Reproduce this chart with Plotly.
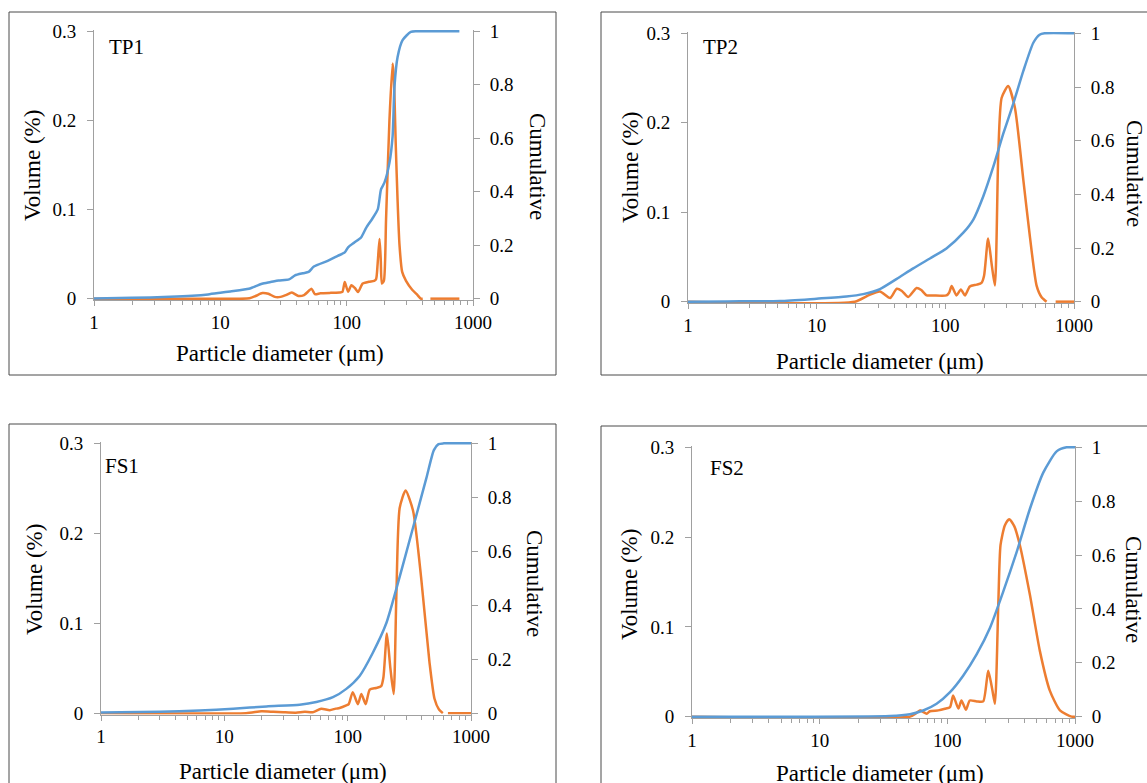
import plotly.graph_objects as go

W, H = 1147, 783

# ---------------- data ----------------
panel_names = ["TP1", "TP2", "FS1", "FS2"]

tp1_vol_d = [1, 3, 8, 17, 19, 21.5, 24, 27, 30, 33, 36.8, 41.5, 46, 52.8, 56, 62, 75, 88, 92.5, 96.6,
             102.6, 109, 116, 123, 134, 150, 165, 171, 176, 182, 186, 190, 197, 205, 218, 231, 236, 245,
             253, 262, 275, 295, 330, 364, 386, 400, 430, 460, 780]
tp1_vol = [0, 0, 0, 0.0005, 0.003, 0.0063, 0.0055, 0.002, 0.002, 0.004, 0.0068, 0.003, 0.004, 0.011, 0.005,
           0.006, 0.0065, 0.0068, 0.0075, 0.0186, 0.0078, 0.015, 0.012, 0.0075, 0.017, 0.019, 0.02, 0.022,
           0.04, 0.067, 0.045, 0.017, 0.02, 0.089, 0.2, 0.264, 0.25, 0.17, 0.11, 0.06, 0.03, 0.02, 0.01,
           0.004, 0, 0, None, 0, 0]
tp1_cum_d = [1, 2, 4, 6, 8, 10, 12, 16.8, 18, 21.4, 25, 28.9, 35, 39, 45, 50, 55, 71.4, 85, 96.6, 102.6,
             115, 130, 143, 160, 176.5, 187, 199, 218, 231, 239, 253, 277, 322, 360, 780]
tp1_cum = [0.001, 0.003, 0.007, 0.011, 0.016, 0.022, 0.027, 0.037, 0.042, 0.056, 0.062, 0.068, 0.072, 0.087,
           0.095, 0.1, 0.12, 0.142, 0.16, 0.173, 0.192, 0.21, 0.229, 0.266, 0.3, 0.335, 0.409, 0.434, 0.508,
           0.607, 0.793, 0.904, 0.967, 0.998, 1.0, 1.0]

tp2_vol_d = [1, 19.8, 25.2, 31, 37.2, 41.9, 46, 51.5, 59.8, 65, 71.6, 80, 102, 107, 112, 122, 132, 142, 155,
             175, 191, 200, 215, 230, 243, 258, 274, 308, 347, 404, 454, 512, 560, 612, 660, 720, 1000]
tp2_vol = [0, 0, 0.007, 0.0114, 0.004, 0.0144, 0.012, 0.0052, 0.0152, 0.013, 0.007, 0.007, 0.007, 0.01,
           0.0174, 0.007, 0.0136, 0.007, 0.017, 0.019, 0.021, 0.029, 0.0705, 0.04, 0.018, 0.166, 0.228,
           0.241, 0.217, 0.136, 0.073, 0.018, 0.005, 0, None, 0, 0]
tp2_cum_d = [1, 2, 5.2, 10, 17, 23, 31, 41.9, 56.3, 75.9, 102, 138, 165, 197, 236, 282, 337, 404, 483, 540,
             590, 1000]
tp2_cum = [0.0, 0.001, 0.002, 0.011, 0.019, 0.028, 0.047, 0.085, 0.124, 0.161, 0.198, 0.257, 0.306, 0.392,
           0.503, 0.626, 0.737, 0.86, 0.965, 0.995, 1.0, 1.0]

fs1_vol_d = [1, 15, 20, 25, 30, 38, 45, 52, 61, 71.5, 80, 86, 97.5, 102, 110, 121, 129, 140, 151, 170, 187,
             195, 208, 222, 236, 248, 264, 295, 339, 396, 461, 506, 550, 591, 620, 650, 1000]
fs1_vol = [0, 0, 0.002, 0.0015, 0.001, 0.0005, 0.0015, 0.001, 0.005, 0.0033, 0.005, 0.0057, 0.0086, 0.01,
           0.0233, 0.01, 0.0214, 0.01, 0.0262, 0.028, 0.03, 0.04, 0.0885, 0.05, 0.0214, 0.129, 0.228, 0.2475,
           0.225, 0.148, 0.0563, 0.016, 0.004, 0, None, 0, 0]
fs1_cum_d = [1, 3, 6.3, 11.8, 22, 40.8, 55.7, 76, 97.5, 125, 160, 206, 264, 339, 434, 500, 545, 600, 1000]
fs1_cum = [0.002, 0.005, 0.01, 0.016, 0.025, 0.031, 0.041, 0.059, 0.09, 0.138, 0.224, 0.334, 0.505, 0.688,
           0.87, 0.975, 0.997, 1.0, 1.0]

fs2_vol_d = [1, 51, 56, 61, 68.9, 73, 85, 95.7, 105, 111, 122, 129, 140, 150, 170, 191, 209, 225, 236, 251,
             261, 282, 305, 335, 370, 443, 531, 635, 762, 940, 1000]
fs2_vol = [0, 0, 0.003, 0.007, 0.0033, 0.006, 0.007, 0.0088, 0.0107, 0.0235, 0.009, 0.018, 0.0077, 0.018,
           0.017, 0.017, 0.051, 0.03, 0.0143, 0.128, 0.191, 0.213, 0.22, 0.212, 0.191, 0.136, 0.073, 0.029,
           0.007, 0, 0]
fs2_cum_d = [1, 35.6, 51, 64.7, 82.4, 105, 133, 170, 216, 274, 349, 443, 564, 718, 859, 1000]
fs2_cum = [0, 0.002, 0.009, 0.023, 0.048, 0.091, 0.152, 0.232, 0.33, 0.464, 0.611, 0.771, 0.906, 0.985,
           1.0, 1.0]

vol_d = [tp1_vol_d, tp2_vol_d, fs1_vol_d, fs2_vol_d]
vol = [tp1_vol, tp2_vol, fs1_vol, fs2_vol]
cum_d = [tp1_cum_d, tp2_cum_d, fs1_cum_d, fs2_cum_d]
cum = [tp1_cum, tp2_cum, fs1_cum, fs2_cum]

x_ticks = [1, 10, 100, 1000]
vol_ticks = [0, 0.1, 0.2, 0.3]
vol_ticktext = ["0", "0.1", "0.2", "0.3"]
cum_ticks = [0, 0.2, 0.4, 0.6, 0.8, 1]
cum_ticktext = ["0", "0.2", "0.4", "0.6", "0.8", "1"]

# ---------------- layout geometry (reference pixels) ----------------
plot_px = [(94, 473, 30, 300), (688, 1074, 32, 303), (101, 471, 442, 714.5), (692, 1075, 446, 718)]
box_px = [(9, 12, 556, 375), (601, 12, 1170, 375), (9, 424, 556, 800), (601, 426, 1170, 800)]
label_px = [(107, 47), (701, 47), (103, 466), (708, 468)]
ytitle_px = [(33, 166), (630, 168), (34, 580), (629, 585)]
y2title_px = [(537, 166), (1134, 173), (535, 583), (1134, 589)]
xtitle_px = [(280, 353), (880, 361), (283, 771), (880, 773)]

BLUE = "#5B9BD5"
ORANGE = "#ED7D31"
AXIS = "#A0A0A0"
FONT = "Liberation Serif, Times New Roman, serif"
TICK_SIZE = 19
TITLE_SIZE = 23


def fx(x):
    return x / W


def fy(y):
    return 1 - y / H


fig = go.Figure()
layout = dict(
    template="none",
    width=W, height=H, autosize=False, margin=dict(l=0, r=0, t=0, b=0, pad=0),
    paper_bgcolor="white", plot_bgcolor="white", showlegend=False,
    font=dict(family=FONT, size=TICK_SIZE, color="black"),
)
annotations = []
shapes = []

for i in range(4):
    xi = i + 1
    yl = 2 * i + 1
    yr = 2 * i + 2
    xname = "xaxis" if xi == 1 else f"xaxis{xi}"
    ylname = "yaxis" if yl == 1 else f"yaxis{yl}"
    yrname = f"yaxis{yr}"
    xref = "x" if xi == 1 else f"x{xi}"
    ylref = "y" if yl == 1 else f"y{yl}"
    yrref = f"y{yr}"
    x0, x1, yt, yb = plot_px[i]

    layout[xname] = dict(
        type="log", range=[0, 3], domain=[fx(x0), fx(x1)], anchor=ylref, automargin=False,
        tickvals=x_ticks, ticktext=[str(v) for v in x_ticks],
        showline=True, linecolor=AXIS, linewidth=1, ticks="outside", ticklen=5,
        tickcolor=AXIS, showgrid=False, zeroline=False,
        minor=dict(ticks="outside", ticklen=4, tickcolor=AXIS, dtick="D1", showgrid=False),
        tickfont=dict(family=FONT, size=TICK_SIZE, color="black"),
    )
    layout[ylname] = dict(
        range=[-0.0015, 0.3015], domain=[fy(yb), fy(yt)], anchor=xref, automargin=False,
        tickvals=vol_ticks, ticktext=vol_ticktext,
        showline=True, linecolor=AXIS, linewidth=1, ticks="outside", ticklen=6,
        tickcolor=AXIS, showgrid=False, zeroline=False, ticklabelstandoff=7,
        tickfont=dict(family=FONT, size=TICK_SIZE, color="black"),
    )
    layout[yrname] = dict(
        range=[-0.005, 1.005], overlaying=ylref, side="right", anchor=xref, automargin=False,
        tickvals=cum_ticks, ticktext=cum_ticktext,
        showline=True, linecolor=AXIS, linewidth=1, ticks="outside", ticklen=6,
        tickcolor=AXIS, showgrid=False, zeroline=False, ticklabelstandoff=6,
        tickfont=dict(family=FONT, size=TICK_SIZE, color="black"),
    )

    fig.add_trace(go.Scatter(
        x=vol_d[i], y=vol[i], mode="lines", xaxis=xref, yaxis=ylref,
        line=dict(color=ORANGE, width=2.5, shape="spline", smoothing=0.6),
        name="Volume", hoverinfo="x+y"))
    fig.add_trace(go.Scatter(
        x=cum_d[i], y=cum[i], mode="lines", xaxis=xref, yaxis=yrref,
        line=dict(color=BLUE, width=2.5, shape="spline", smoothing=0.6),
        name="Cumulative", hoverinfo="x+y"))

    bx0, by0, bx1, by1 = box_px[i]
    shapes.append(dict(type="rect", xref="paper", yref="paper",
                       x0=fx(bx0), x1=fx(bx1), y0=fy(by1), y1=fy(by0),
                       line=dict(color="#4a4a4a", width=1), fillcolor="rgba(0,0,0,0)", layer="below"))

    lx, ly = label_px[i]
    annotations.append(dict(text=panel_names[i], xref="paper", yref="paper", x=fx(lx), y=fy(ly),
                            xanchor="left", yanchor="middle", showarrow=False,
                            font=dict(family=FONT, size=21, color="black")))
    tx, ty = ytitle_px[i]
    annotations.append(dict(text="Volume (%)", xref="paper", yref="paper", x=fx(tx), y=fy(ty),
                            xanchor="center", yanchor="middle", showarrow=False, textangle=-90,
                            font=dict(family=FONT, size=TITLE_SIZE, color="black")))
    tx, ty = y2title_px[i]
    annotations.append(dict(text="Cumulative", xref="paper", yref="paper", x=fx(tx), y=fy(ty),
                            xanchor="center", yanchor="middle", showarrow=False, textangle=90,
                            font=dict(family=FONT, size=TITLE_SIZE, color="black")))
    tx, ty = xtitle_px[i]
    annotations.append(dict(text="Particle diameter (μm)", xref="paper", yref="paper", x=fx(tx), y=fy(ty),
                            xanchor="center", yanchor="middle", showarrow=False,
                            font=dict(family=FONT, size=TITLE_SIZE, color="black")))

layout["annotations"] = annotations
layout["shapes"] = shapes
fig.update_layout(**layout)
fig.write_html(
    "out.html",
    config={"displayModeBar": False},
    post_script="document.body.style.margin='0';document.body.style.overflow='hidden';",
)
